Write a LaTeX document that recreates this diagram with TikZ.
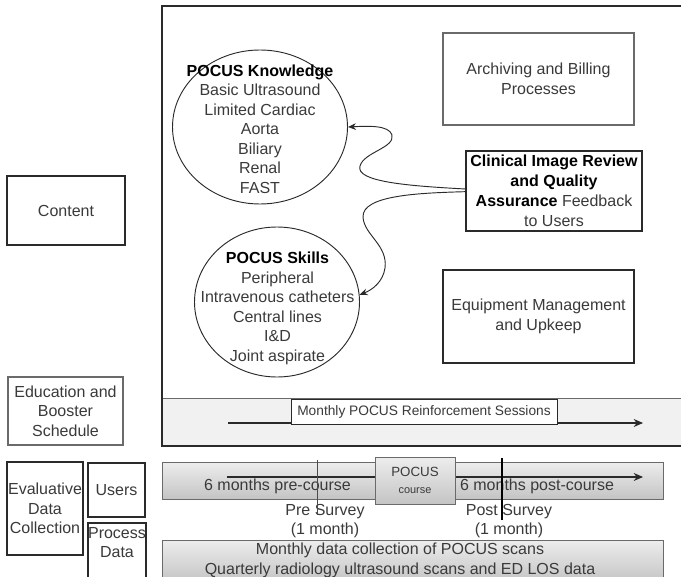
\documentclass[tikz,border=0pt]{standalone}
\usepackage{fontspec}
\setmainfont{Liberation Sans}
\usetikzlibrary{arrows.meta,shapes.geometric}
\definecolor{txt}{HTML}{3A3A3A}
\definecolor{edge}{HTML}{2A2A2A}
\definecolor{lightedge}{HTML}{6A6A6A}
\definecolor{bandfill}{HTML}{F1F1F1}
\definecolor{bartop}{HTML}{EDEDED}
\definecolor{barbot}{HTML}{C4C4C4}
\newcommand\mainfs{\fontsize{12}{14.6}\selectfont}
\newcommand\smallfs{\fontsize{10.3}{12.5}\selectfont}
\begin{document}
\begin{tikzpicture}[x=0.75pt,y=-0.75pt,
  sz/.style 2 args={minimum width=#1*0.75pt, minimum height=#2*0.75pt},
  box/.style={draw=edge, line width=0.8pt, fill=white, inner sep=0pt, align=center, text=txt, font=\mainfs},
  graybox/.style={box, draw=lightedge},
  label/.style={inner sep=0pt, align=center, text=txt, font=\mainfs},
  bar/.style={draw=lightedge, line width=0.7pt, top color=bartop, bottom color=barbot, inner sep=0pt, align=center, text=txt},
  bub/.style={ellipse, draw=edge, line width=0.7pt, inner sep=0pt},
  arr/.style={-{Stealth[length=7pt,width=6pt]}, line width=0.8pt, draw=edge},
  carr/.style={-{Stealth[length=6pt,width=5pt]}, line width=0.7pt, draw=edge}
]
\useasboundingbox (0,0) rectangle (681,577);
\clip (0,0) rectangle (681,577);

% big frame and band
\coordinate (fr1) at (700,6);
\coordinate (fr2) at (162,6);
\coordinate (fr3) at (162,446);
\coordinate (fr4) at (700,446);
\fill[bandfill] (162,398) rectangle (700,446);
\draw[lightedge, line width=0.6pt] (162,398) -- (700,398);
\draw[edge, line width=1pt] (fr1) -- (fr2) -- (fr3) -- (fr4);

% left column
\node[box, sz={118}{69}] (content) at (66,210.5) {Content};
\node[graybox, sz={115}{68}] (edu) at (65.5,411) {Education and\\Booster\\Schedule};
\node[box, sz={76}{93}] (eval) at (45,508.5) {Evaluative\\Data\\Collection};
\node[box, sz={57}{54}] (users) at (116.5,490) {Users};
\node[box, sz={58}{60}] (proc) at (117,553) {};
\node[label, font=\fontsize{12}{14.2}\selectfont] (proct) at (117,543) {Process\\Data};

% bubbles
\node[bub, sz={175}{154}] (kn) at (260,127) {};
\node[label, font=\fontsize{12}{14.6}\selectfont] (knt) at (260,129) {{\color{black}\textbf{POCUS Knowledge}}\\Basic Ultrasound\\Limited Cardiac\\Aorta\\Biliary\\Renal\\FAST};
\node[bub, sz={165}{150}] (sk) at (277,302) {};
\node[label] (skt) at (277.5,308.5) {{\color{black}\textbf{POCUS Skills}}\\Peripheral\\Intravenous catheters\\Central lines\\I\&D\\Joint aspirate};

% right boxes
\node[graybox, sz={191}{92}] (arch) at (538.5,79) {Archiving and Billing\\Processes};
\node[box, sz={176}{80}, font=\fontsize{12}{15}\selectfont] (clin) at (554,191) {{\color{black}\textbf{Clinical Image Review}}\\{\color{black}\textbf{and Quality}}\\{\color{black}\textbf{Assurance}} Feedback\\to Users};
\node[box, sz={191}{93}] (equip) at (538.5,316.5) {Equipment Management\\and Upkeep};

% curved connectors
\draw[carr] ([yshift=1.5pt]clin.west) .. controls (410,186) and (355,182) .. (360,166)
  .. controls (364,152) and (395,148) .. (392,135)
  .. controls (389,125) and (368,126) .. (kn.east);
\draw[carr] ([yshift=-0.5pt]clin.west) .. controls (420,193) and (362,195) .. (363,217)
  .. controls (364,235) and (388,245) .. (385,268)
  .. controls (383,282) and (372,290) .. (sk.5);

% reinforcement band
\coordinate (ra) at (228,423);
\coordinate (rb) at (643,423);
\draw[arr] (ra) -- (rb);
\node[draw=edge, line width=0.7pt, fill=white, inner sep=0pt, text=txt, font=\smallfs, sz={266}{25}] (reinf) at (424,411.5) {Monthly POCUS Reinforcement Sessions};

% timeline
\node[bar, sz={501}{37}] (tl) at (412.5,480.5) {};
\coordinate (ta) at (227,477);
\coordinate (tb) at (643,477);
\draw[arr] (ta) -- (tb);
\node[bar, sz={80}{47}] (course) at (415,480.5) {{\fontsize{10}{12}\selectfont POCUS}\\[1pt]{\fontsize{8.2}{10}\selectfont course}};
\node[label] (pre) at (277.5,486) {6 months pre-course};
\node[label] (post) at (537,486) {6 months post-course};
\node[label, font=\fontsize{12}{14.3}\selectfont] (pres) at (325,521) {Pre Survey\\(1 month)};
\node[label, font=\fontsize{12}{14.3}\selectfont] (posts) at (509,521) {Post Survey\\(1 month)};
\coordinate (pl1) at (317,460);
\coordinate (pl2) at (317,515);
\coordinate (ql1) at (502,458);
\coordinate (ql2) at (502,520);
\draw[lightedge!70!black, line width=0.7pt] (pl1) -- (pl2);
\draw[black, line width=1pt] (ql1) -- (ql2);

% bottom bar
\node[bar, sz={501}{42}, font=\mainfs] (data) at (412.5,561) {};
\node[label, font=\fontsize{12}{15}\selectfont] (datat) at (400,560) {Monthly data collection of POCUS scans\\Quarterly radiology ultrasound scans and ED LOS data};
\end{tikzpicture}
\end{document}
